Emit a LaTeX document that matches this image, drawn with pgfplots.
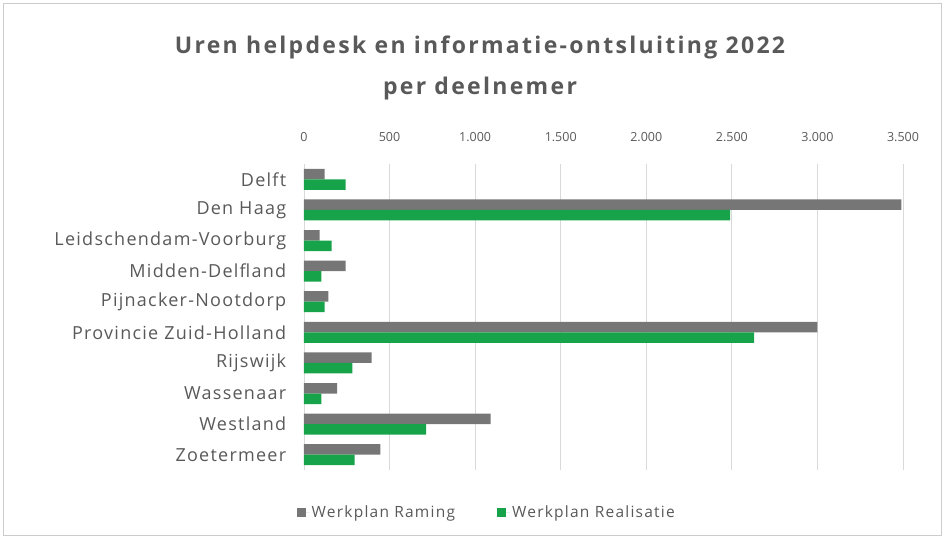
\documentclass[border=0pt]{standalone}
\usepackage{pgfplots}
\pgfplotsset{compat=1.18}
\usepackage{fontspec}
\setmainfont{Open Sans}
\newfontfamily\catfont[LetterSpace=7]{Open Sans}
\newfontfamily\legfont[LetterSpace=8]{Open Sans}
\newfontfamily\titlefont[LetterSpace=10]{Open Sans}
\definecolor{raming}{RGB}{118,118,118}
\definecolor{realisatie}{RGB}{22,163,74}
\definecolor{txt}{RGB}{89,89,89}
\begin{document}
\begin{tikzpicture}
\begin{axis}[
    name=ax,
    xbar,
    scale only axis,
    width=599pt, height=306pt,
    bar width=10.5pt,
    xmin=0, xmax=3500,
    ymin=-0.5, ymax=9.5,
    y dir=reverse,
    ytick={0,...,9},
    yticklabels={Delft,Den Haag,Leidschendam-Voorburg,Midden-Delfland,Pijnacker-Nootdorp,Provincie Zuid-Holland,Rijswijk,Wassenaar,Westland,Zoetermeer},
    xtick={0,500,...,3500},
    xticklabel pos=upper,
    axis line style={draw=none},
    major tick style={draw=none},
    xmajorgrids, grid style={draw=black!15, line width=0.8pt},
    /pgf/number format/.cd, 1000 sep={.}, assume math mode=true,
    /pgfplots/.cd,
    tick label style={font=\fontsize{12.5}{14}\selectfont, text=txt},
    yticklabel style={font=\catfont\fontsize{18}{20}\selectfont, text=txt, xshift=-10pt},
    xticklabel style={yshift=19pt},
    legend style={at={(0.305,-0.14)}, anchor=center, draw=none, legend columns=2,
        font=\legfont\fontsize{15.5}{17}\selectfont, text=txt,
        /tikz/every even column/.append style={column sep=40pt}},
    legend image code/.code={\fill[#1,draw=none] (0pt,-4.5pt) rectangle (9pt,4.5pt); \path (9pt,0pt) -- (13pt,0pt);},
]
\addplot[fill=raming, draw=none, bar shift=5.25pt] coordinates {
    (120,0) (3490,1) (91,2) (243,3) (142,4) (3000,5) (395,6) (193,7) (1090,8) (447,9)
};
\addplot[fill=realisatie, draw=none, bar shift=-5.25pt] coordinates {
    (243,0) (2490,1) (161,2) (101,3) (120,4) (2630,5) (282,6) (101,7) (713,8) (296,9)
};
\legend{Werkplan Raming, Werkplan Realisatie}
\end{axis}
\node[align=center, font=\titlefont\bfseries\fontsize{23}{41}\selectfont, text=txt]
    at ([xshift=176pt, yshift=402pt]ax.south west) {Uren helpdesk en informatie-ontsluiting 2022\\per deelnemer};
\pgfresetboundingbox
\draw[black!20] ([xshift=-301pt,yshift=-65pt]ax.south west) rectangle ([xshift=637pt,yshift=467pt]ax.south west);
\useasboundingbox ([xshift=-304pt,yshift=-68pt]ax.south west) rectangle ([xshift=640pt,yshift=470pt]ax.south west);
\end{tikzpicture}
\end{document}
